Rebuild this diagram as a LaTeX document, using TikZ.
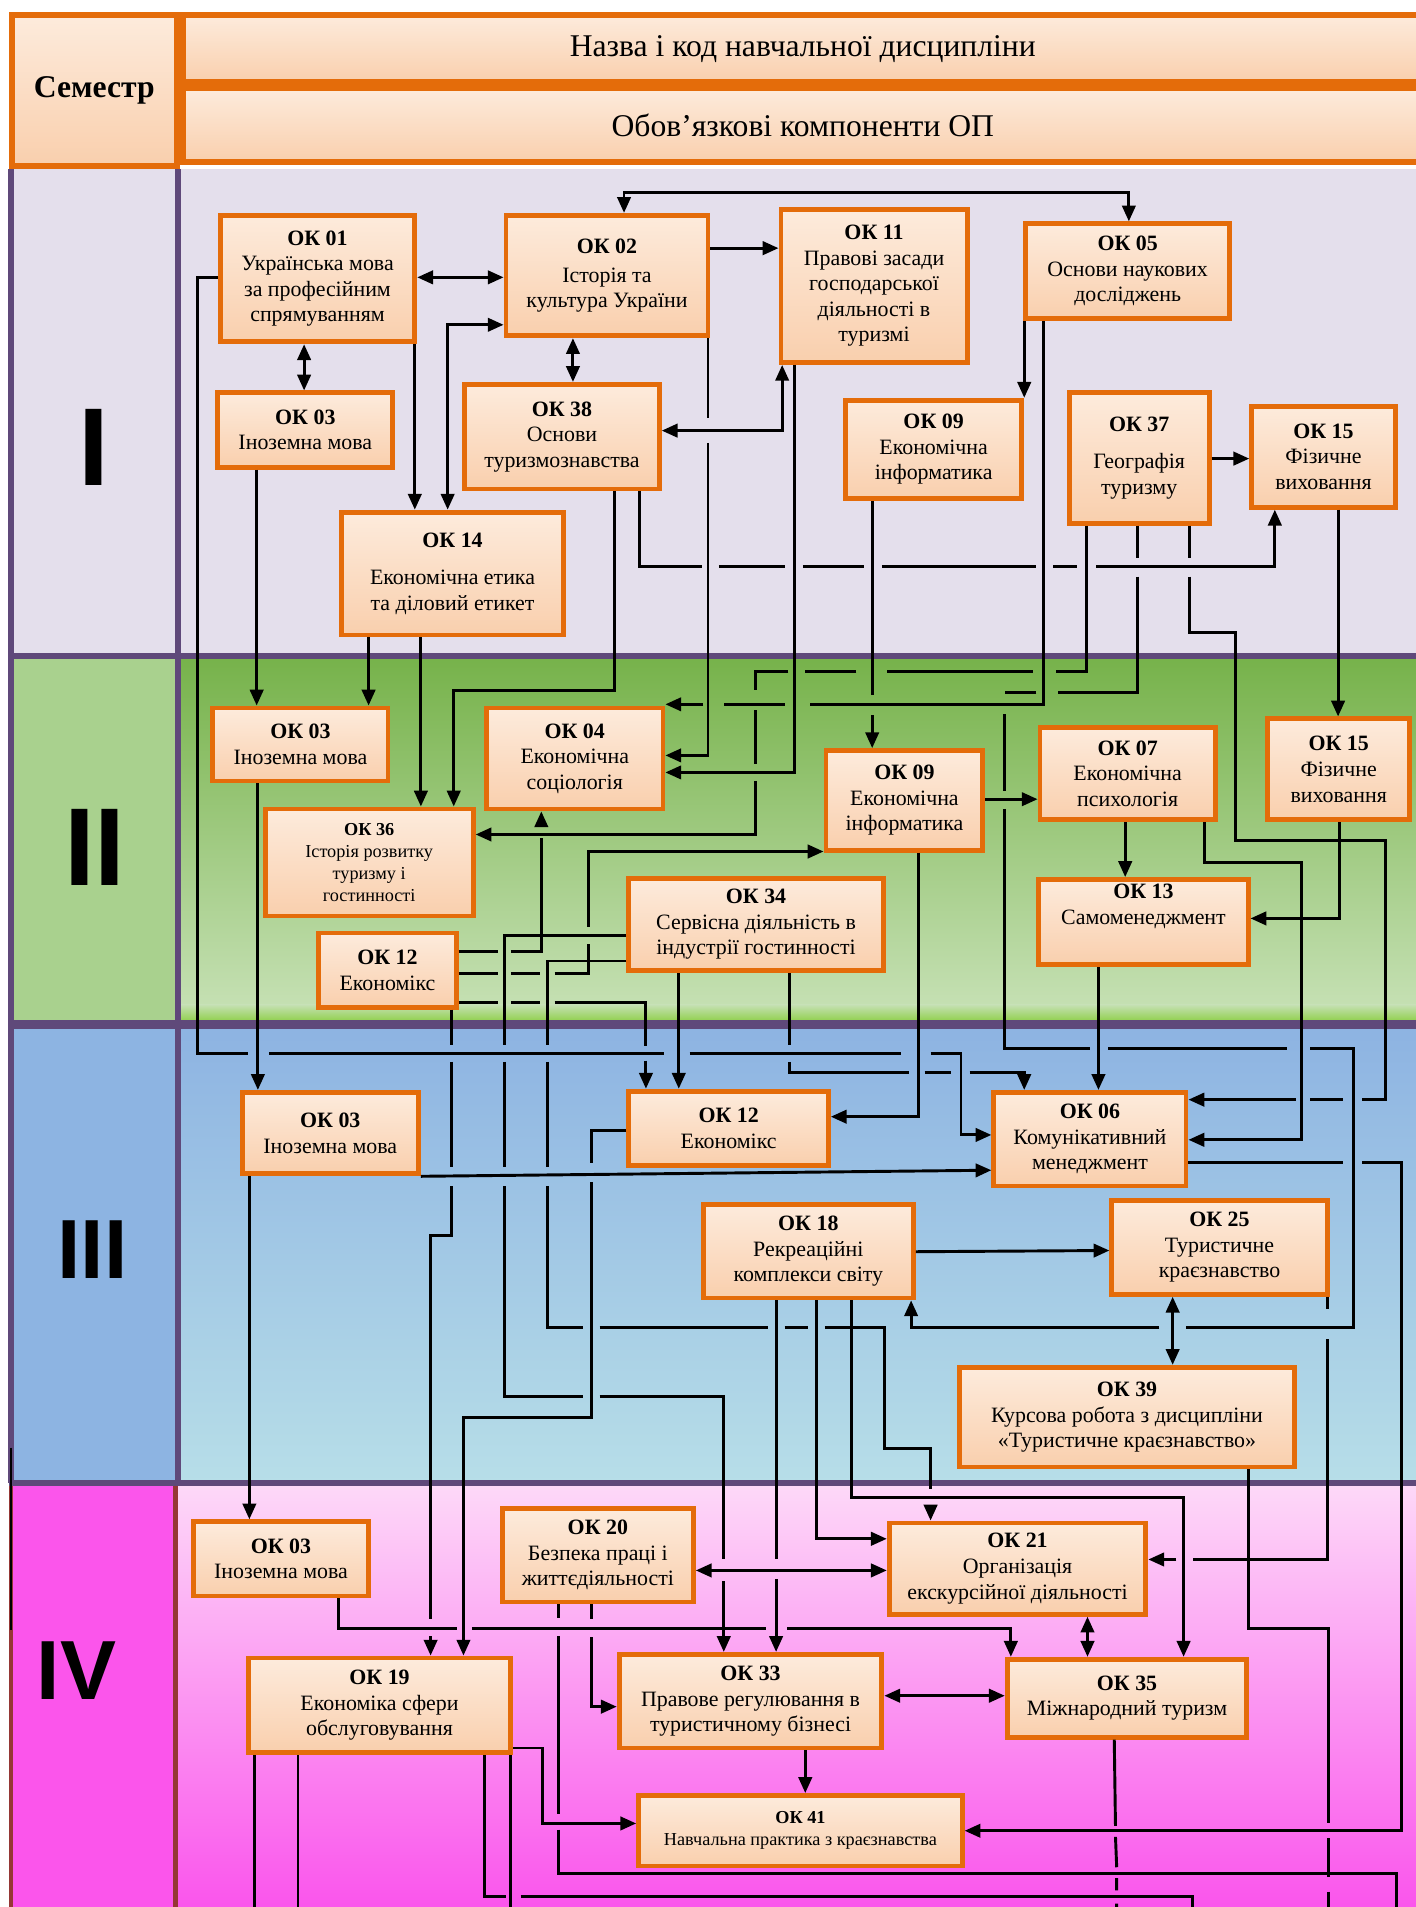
\documentclass[tikz,border=0pt]{standalone}
\usepackage{fontspec}
\setmainfont{Liberation Serif}
\newfontfamily\numfont{Liberation Sans}
\usetikzlibrary{arrows.meta}
\definecolor{borange}{HTML}{E46C0A}
\definecolor{boxtop}{HTML}{FDEBDC}
\definecolor{boxbot}{HTML}{F9CFAD}
\definecolor{purp}{HTML}{5F497A}
\definecolor{redbr}{HTML}{953735}
\definecolor{semI}{HTML}{E4DFEC}
\definecolor{colII}{HTML}{A9D18E}
\definecolor{IItop}{HTML}{76B24A}
\definecolor{IIbot}{HTML}{C5E0B3}
\definecolor{IIstrip}{HTML}{92D050}
\definecolor{colIII}{HTML}{8DB4E2}
\definecolor{IIItop}{HTML}{8DB3E2}
\definecolor{IIIbot}{HTML}{B7DEE8}
\definecolor{colIV}{HTML}{FB55EB}
\definecolor{IVtop}{HTML}{FDD9F8}
\definecolor{IVbot}{HTML}{FA55EC}
\tikzset{
  okbox/.style={draw=borange, line width=4pt, top color=boxtop, bottom color=boxbot,
    inner sep=1pt, align=center, text=black, font=\fontsize{18}{21}\selectfont},
  hdbox/.style={draw=borange, line width=5pt, top color=boxtop, bottom color=boxbot,
    inner sep=0pt, align=center, text=black},
  ln/.style={draw=black, line width=2.4pt},
  arr/.style={ln, -{Triangle[length=13pt,width=11pt]}},
  arrb/.style={ln, {Triangle[length=13pt,width=11pt]}-{Triangle[length=13pt,width=11pt]}},
  numtxt/.style={inner sep=0pt, text=black}
}
\newcommand\okbox[7][]{\node[okbox,minimum width={#5-#3-4},minimum height={#6-#4-4},#1] (#2) at ({(#3+#5)/2},{(#4+#6)/2}) {#7};}
\begin{document}
\begin{tikzpicture}[x=1pt,y=-1pt]
\useasboundingbox (0,0) rectangle (1164,1567.7);
\clip (0,0) rectangle (1164,1567.7);
% ---------- backgrounds
\fill[white] (0,0) rectangle (1164,1567.7);
\fill[semI] (7,139) rectangle (1164,539);
\fill[colII] (7,539) rectangle (146,842);
\shade[top color=IItop, bottom color=IIbot] (146,539) rectangle (1164,827);
\shade[top color=IIbot, bottom color=IIstrip] (146,826) rectangle (1164,839);
\fill[colIII] (7,842) rectangle (146,1219);
\shade[top color=IIItop, bottom color=IIIbot] (146,842) rectangle (1164,1219);
\fill[colIV] (7,1219) rectangle (146,1568);
\shade[top color=IVtop, bottom color=IVbot] (146,1219) rectangle (1164,1568);
% ---------- grid lines
\draw[purp, line width=5pt] (9,139) -- (9,1219);
\draw[redbr, line width=4pt] (9,1219) -- (9,1568);
\draw[purp, line width=5pt] (146.5,139) -- (146.5,1219);
\draw[redbr, line width=4pt] (144,1219) -- (144,1568);
\draw[purp, line width=5pt] (7,539) -- (1164,539);
\draw[purp, line width=7pt] (7,842) -- (1164,842);
\draw[purp, line width=5pt] (7,1219) -- (1164,1219);
\draw[black, line width=2pt] (9,1190) -- (9,1340);
% ---------- header
\node[hdbox, minimum width=136, minimum height=124, font=\bfseries\fontsize{26}{30}\selectfont] (sem) at (77.5,74.5) {Семестр};
\node[hdbox, minimum width=1019, minimum height=55, font=\fontsize{26}{30}\selectfont] (hd1) at (660,40) {Назва і код навчальної дисципліни};
\node[hdbox, minimum width=1019, minimum height=61, font=\fontsize{26}{30}\selectfont] (hd2) at (660,103) {Обов’язкові компоненти ОП};
% ---------- semester numerals
\node[numtxt, font=\numfont\bfseries\fontsize{91}{91}\selectfont] (numI) at (77,368) {I};
\node[numtxt, font=\numfont\bfseries\fontsize{91}{91}\selectfont] (numII) at (78,697) {II};
\node[numtxt, font=\numfont\bfseries\fontsize{69}{69}\selectfont] (numIII) at (76,1027) {III};
\node[numtxt, font=\numfont\bfseries\fontsize{69}{69}\selectfont] (numIV) at (63,1373) {IV};
% ---------- boxes: semester I
\okbox{ok01}{179}{175}{343}{283}{\textbf{ОК 01}\\Українська мова\\за професійним\\спрямуванням}
\okbox{ok02}{414}{175}{584}{278}{\textbf{ОК 02}\\[3pt]Історія та\\культура України}
\okbox{ok11}{640}{170}{797}{300}{\textbf{ОК 11}\\Правові засади\\господарської\\діяльності в\\туризмі}
\okbox{ok05}{841}{182}{1013}{264}{\textbf{ОК 05}\\Основи наукових\\досліджень}
\okbox{ok03a}{177}{321}{325}{386}{\textbf{ОК 03}\\Іноземна мова}
\okbox{ok38}{380}{314}{544}{404}{\textbf{ОК 38}\\Основи\\туризмознавства}
\okbox{ok09a}{693}{327}{842}{412}{\textbf{ОК 09}\\Економічна\\інформатика}
\okbox{ok37}{877}{321}{996}{432}{\textbf{ОК 37}\\[10pt]Географія\\туризму}
\okbox{ok15a}{1027}{332}{1149}{419}{\textbf{ОК 15}\\Фізичне\\виховання}
\okbox{ok14}{279}{419}{465}{524}{\textbf{ОК 14}\\[10pt]Економічна етика\\та діловий етикет}
% ---------- semester II
\okbox{ok03b}{173}{580}{321}{644}{\textbf{ОК 03}\\Іноземна мова}
\okbox{ok04}{398}{580}{547}{667}{\textbf{ОК 04}\\Економічна\\соціологія}
\okbox[font=\fontsize{15}{18}\selectfont]{ok36}{216}{663}{391}{755}{\textbf{ОК 36}\\Історія розвитку\\туризму і\\гостинності}
\okbox{ok12b}{260}{765}{377}{830}{\textbf{ОК 12}\\Економікс}
\okbox{ok09b}{677}{615}{810}{701}{\textbf{ОК 09}\\Економічна\\інформатика}
\okbox{ok34}{515}{720}{728}{800}{\textbf{ОК 34}\\Сервісна діяльність в\\індустрії гостинності}
\okbox{ok07}{853}{596}{1001}{676}{\textbf{ОК 07}\\Економічна\\психологія}
\okbox{ok15b}{1040}{589}{1161}{676}{\textbf{ОК 15}\\Фізичне\\виховання}
\okbox{ok13}{852}{721}{1028}{795}{\textbf{ОК 13}\\Самоменеджмент\\[8pt]}
% ---------- semester III
\okbox{ok03c}{197}{896}{346}{967}{\textbf{ОК 03}\\Іноземна мова}
\okbox{ok12c}{515}{895}{683}{960}{\textbf{ОК 12}\\Економікс}
\okbox{ok06}{815}{896}{977}{977}{\textbf{ОК 06}\\Комунікативний\\менеджмент}
\okbox{ok18}{576}{988}{753}{1069}{\textbf{ОК 18}\\Рекреаційні\\комплекси світу}
\okbox{ok25}{912}{985}{1093}{1066}{\textbf{ОК 25}\\Туристичне\\краєзнавство}
\okbox{ok39}{787}{1122}{1066}{1208}{\textbf{ОК 39}\\Курсова робота з дисципліни\\«Туристичне краєзнавство»}
% ---------- semester IV
\okbox{ok03d}{157}{1249}{305}{1314}{\textbf{ОК 03}\\Іноземна мова}
\okbox{ok20}{411}{1238}{572}{1319}{\textbf{ОК 20}\\Безпека праці і\\життєдіяльності}
\okbox{ok21}{729}{1250}{944}{1329}{\textbf{ОК 21}\\Організація\\екскурсійної діяльності}
\okbox{ok19}{202}{1361}{422}{1443}{\textbf{ОК 19}\\Економіка сфери\\обслуговування}
\okbox{ok33}{507}{1358}{727}{1439}{\textbf{ОК 33}\\Правове регулювання в\\туристичному бізнесі}
\okbox{ok35}{826}{1362}{1027}{1430}{\textbf{ОК 35}\\Міжнародний туризм}
\okbox[font=\fontsize{15}{18}\selectfont]{ok41}{523}{1474}{793}{1536}{\textbf{ОК 41}\\Навчальна практика з краєзнавства}
% ---------- free ends below the picture edge
\coordinate (endA) at (1092,1575);
\coordinate (endB) at (1148,1575);
\coordinate (endC) at (209,1575);
\coordinate (endD) at (245,1575);
\coordinate (endE) at (980,1575);
\coordinate (endF) at (420,1575);
\coordinate (endG) at (918,1575);
% ---------- connectors: semester I
\draw[arrb] (513,0 |- ok02.north) -- (513,158) -- (928,158) -- (928,0 |- ok05.north);
\draw[arrb] (ok01.east |- 0,228) -- (ok02.west |- 0,228);
\draw[arrb] (250,0 |- ok01.south) -- (250,0 |- ok03a.north);
\draw[arrb] (471,0 |- ok02.south) -- (471,0 |- ok38.north);
\draw[arr] (ok02.east |- 0,204) -- (ok11.west |- 0,204);
\draw[arrb] (368,0 |- ok14.north) -- (368,267) -- (ok02.west |- 0,267);
\draw[arr] (341,0 |- ok01.south) -- (341,0 |- ok14.north);
\draw[arr] (ok01.west |- 0,228) -- (162,228) -- (162,866) -- (204,866) (221,866) -- (546,866) (567,866) -- (741,866) (765,866) -- (790,866) -- (790,933) -- (ok06.west |- 0,933);
\draw[arr] (526,0 |- ok38.south) -- (526,466) -- (577,466) (591,466) -- (645,466) (660,466) -- (710,466) (725,466) -- (852,466) (866,466) -- (885,466) (901,466) -- (1048,466) -- (1048,0 |- ok15a.south);
\draw[arr] (505,0 |- ok38.south) -- (505,568) -- (373,568) -- (373,0 |- ok36.north);
\draw[arrb] (ok38.east |- 0,354) -- (643,354) -- (643,0 |- ok11.south);
\draw[arr] (582,0 |- ok02.south) -- (582,344) (582,364) -- (582,621) -- (ok04.east |- 0,621);
\draw[arr] (653,0 |- ok11.south) -- (653,635) -- (ok04.east |- 0,635);
\draw[arr] (717,0 |- ok09a.south) -- (717,571) (717,588) -- (717,0 |- ok09b.north);
\draw[arr] (842,0 |- ok05.south) -- (842,0 |- ok09a.north);
\draw[arr] (858,0 |- ok05.south) -- (858,579) -- (666,579) (645,579) -- (595,579) (578,579) -- (ok04.east |- 0,579);
\draw[arr] (ok37.east |- 0,377) -- (ok15a.west |- 0,377);
\draw[arr] (893,0 |- ok37.south) -- (893,552) -- (868,552) (849,552) -- (729,552) (704,552) -- (662,552) (648,552) -- (621,552) -- (621,567) (621,584) -- (621,628) (621,642) -- (621,686) -- (ok36.east |- 0,686);
\draw[arr] (935,0 |- ok37.south) -- (935,459) (935,474) -- (935,569) -- (870,569) (852,569) -- (826,569) (826,587) -- (826,650) (826,665) -- (826,862) -- (896,862) (911,862) -- (1058,862) (1077,862) -- (1113,862) -- (1113,1091) -- (975,1091) (953,1091) -- (749,1091) -- (749,0 |- ok18.south);
\draw[arr] (978,0 |- ok37.south) -- (978,459) (978,474) -- (978,520) -- (1016,520) -- (1016,691) -- (1139,691) -- (1139,904) -- (1120,904) (1104,904) -- (1077,904) (1065,904) -- (ok06.east |- 0,904);
\draw[arr] (1100,0 |- ok15a.south) -- (1100,0 |- ok15b.north);
% ---------- connectors: semester II
\draw[arr] (211,0 |- ok03a.south) -- (211,0 |- ok03b.north);
\draw[arr] (303,0 |- ok14.south) -- (303,0 |- ok03b.north);
\draw[arr] (346,0 |- ok14.south) -- (346,0 |- ok36.north);
\draw[arr] (ok12b.east |- 0,782) -- (409,782) (420,782) -- (445,782) -- (445,689) (445,674) -- (445,0 |- ok04.south);
\draw[arr] (ok12b.east |- 0,800) -- (409,800) (420,800) -- (444,800) (456,800) -- (484,800) -- (484,776) (484,762) -- (484,700) -- (ok09b.west |- 0,700);
\draw[arr] (ok12b.east |- 0,824) -- (409,824) (420,824) -- (444,824) (456,824) -- (531,824) -- (531,860) (531,872) -- (531,0 |- ok12c.north);
\draw[arr] (371,0 |- ok12b.south) -- (371,859) (371,873) -- (371,959) (371,975) -- (371,1016) -- (354,1016) -- (354,1331) (354,1345) -- (354,0 |- ok19.north);
\draw[arr] (ok34.west |- 0,769) -- (415,769) -- (415,859) (415,873) -- (415,959) (415,975) -- (415,1148) -- (479,1148) (493,1148) -- (595,1148) -- (595,1282) (595,1300) -- (595,0 |- ok33.north);
\draw[arr] (ok34.west |- 0,790) -- (450,790) -- (450,859) (450,873) -- (450,959) (450,975) -- (450,1091) -- (479,1091) (493,1091) -- (631,1091) (645,1091) -- (664,1091) (678,1091) -- (727,1091) -- (727,1191) -- (765,1191) -- (765,1224) (765,1238) -- (765,0 |- ok21.north);
\draw[arr] (558,0 |- ok34.south) -- (558,0 |- ok12c.north);
\draw[arr] (649,0 |- ok34.south) -- (649,859) (649,873) -- (649,882) -- (747,882) (760,882) -- (782,882) (797,882) -- (842,882) -- (842,0 |- ok06.north);
\draw[arr] (ok09b.east |- 0,657) -- (ok07.west |- 0,657);
\draw[arr] (755,0 |- ok09b.south) -- (755,918) -- (ok12c.east |- 0,918);
\draw[arr] (925,0 |- ok07.south) -- (925,0 |- ok13.north);
\draw[arr] (990,0 |- ok07.south) -- (990,709) -- (1070,709) -- (1070,937) -- (ok06.east |- 0,937);
\draw[arr] (1101,0 |- ok15b.south) -- (1101,755) -- (ok13.east |- 0,755);
\draw[arr] (903,0 |- ok13.south) -- (903,0 |- ok06.north);
% ---------- connectors: semester III
\draw[arr] (212,0 |- ok03b.south) -- (212,0 |- ok03c.north);
\draw[arr] (ok03c.east |- 0,967) -- (ok06.west |- 0,962);
\draw[arr] (205,0 |- ok03c.south) -- (205,0 |- ok03d.north);
\draw[arr] (ok12c.west |- 0,929) -- (486,929) -- (486,956) (486,972) -- (486,1165) -- (381,1165) -- (381,0 |- ok19.north);
\draw[arr] (ok18.east |- 0,1029) -- (ok25.west |- 0,1028);
\draw[arrb] (964,0 |- ok25.south) -- (964,0 |- ok39.north);
\draw[arr] (ok06.east |- 0,956) -- (1104,956) (1120,956) -- (1152,956) -- (1152,1505) -- (ok41.east |- 0,1505);
\draw[arr] (1091,0 |- ok25.south) -- (1091,1076) (1091,1101) -- (1091,1282) -- (981,1282) (967,1282) -- (ok21.east |- 0,1282);
\draw[ln] (1026,0 |- ok39.south) -- (1026,1339) -- (1092,1339) -- (1092,1499) (1092,1511) -- (1092,1543) (1092,1555) -- (endA);
\draw[arr] (638,0 |- ok18.south) -- (638,1282) (638,1298) -- (638,0 |- ok33.north);
\draw[arr] (671,0 |- ok18.south) -- (671,1265) -- (ok21.west |- 0,1265);
\draw[arr] (700,0 |- ok18.south) -- (700,1231) -- (973,1231) -- (973,0 |- ok35.north);
% ---------- connectors: semester IV
\draw[arrb] (ok20.east |- 0,1291) -- (ok21.west |- 0,1291);
\draw[arrb] (894,0 |- ok21.south) -- (894,0 |- ok35.north);
\draw[arrb] (ok33.east |- 0,1394) -- (ok35.west |- 0,1394);
\draw[arr] (662,0 |- ok33.south) -- (662,0 |- ok41.north);
\draw[arr] (278,0 |- ok03d.south) -- (278,1339) -- (376,1339) (388,1339) -- (630,1339) (647,1339) -- (831,1339) -- (831,0 |- ok35.north);
\draw[arr] (486,0 |- ok20.south) -- (486,1331) (486,1346) -- (486,1403) -- (ok33.west |- 0,1403);
\draw[ln] (459,0 |- ok20.south) -- (459,1330) (459,1345) -- (459,1491) (459,1504) -- (459,1540) -- (1148,1540) -- (endB);
\draw[arr] (ok19.east |- 0,1437) -- (446,1437) -- (446,1499) -- (ok41.west |- 0,1499);
\draw[ln] (209,0 |- ok19.south) -- (endC);
\draw[ln] (245,0 |- ok19.south) -- (endD);
\draw[ln] (398,0 |- ok19.south) -- (398,1559) -- (416,1559) (428,1559) -- (980,1559) -- (endE);
\draw[ln] (420,0 |- ok19.south) -- (endF);
\draw[ln] (916,0 |- ok35.south) -- (917,1501) (917,1510) -- (918,1535) (918,1544) -- (918,1554) (918,1565) -- (endG);
\end{tikzpicture}
\end{document}
